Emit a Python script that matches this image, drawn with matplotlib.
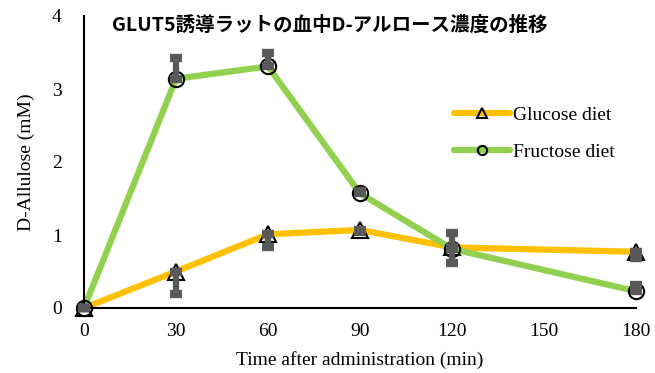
import matplotlib
matplotlib.use("Agg")
import matplotlib.pyplot as plt

time = [0, 30, 60, 90, 120, 180]
glucose = [0.0, 0.50, 1.01, 1.07, 0.83, 0.77]
glucose_err = [0.0, 0.31, 0.17, 0.03, 0.21, 0.09]   # drawn downward
fructose = [0.0, 3.14, 3.31, 1.57, 0.81, 0.23]
fructose_err = [0.0, 0.29, 0.18, 0.03, 0.22, 0.09]  # drawn upward

xticks = [0, 30, 60, 90, 120, 150, 180]
yticks = [0, 1, 2, 3, 4]

title = "GLUT5誘導ラットの血中D-アルロース濃度の推移"

serif = "Liberation Serif"
plt.rcParams["font.family"] = [serif]

fig = plt.figure(figsize=(6.55, 3.73), dpi=100)
ax = fig.add_axes([84 / 655, 1 - 308 / 373, 552 / 655, 292 / 373])

err_color = "#595959"
# error bars (one-sided, Excel style)
ax.errorbar(time, glucose, yerr=[glucose_err, [0] * len(time)], fmt="none",
            ecolor=err_color, elinewidth=4.5, capsize=4, capthick=6, zorder=3)
ax.errorbar(time, fructose, yerr=[[0] * len(time), fructose_err], fmt="none",
            ecolor=err_color, elinewidth=4.5, capsize=4, capthick=6, zorder=3)

ax.plot(time, glucose, color="#FFC000", lw=4.5, marker="^", ms=11,
        mfc="none", mec="black", mew=1.5, label="Glucose diet", zorder=2,
        solid_capstyle="round")
ax.plot(time, fructose, color="#92D050", lw=4.5, marker="o", ms=11,
        mfc="none", mec="black", mew=1.5, label="Fructose diet", zorder=2,
        solid_capstyle="round")

ax.set_xlim(0, 180)
ax.set_ylim(0, 4)
ax.set_xticks(xticks)
ax.set_yticks(yticks)
ax.tick_params(length=0, labelsize=14, pad=11)
ax.tick_params(axis="y", pad=16)
for s in ["top", "right"]:
    ax.spines[s].set_visible(False)
ax.spines["left"].set_linewidth(1.5)
ax.spines["bottom"].set_linewidth(1.5)
ax.spines["left"].set_bounds(0, 4)

ax.set_xlabel("Time after administration (min)", fontsize=14, labelpad=8)
ax.set_ylabel("D-Allulose (mM)", fontsize=14, labelpad=12)

leg = ax.legend(loc="center left", bbox_to_anchor=(0.638, 0.597), frameon=False,
                fontsize=14, markerscale=0.6, handlelength=2.9,
                handletextpad=0.15, labelspacing=1.0)

fig.text(330 / 655, 1 - 25 / 373, title, ha="center", va="center",
         fontsize=14, fontweight="bold",
         family=["Noto Sans CJK JP", "DejaVu Sans"])

for a in ax.get_children():
    a.set_clip_on(False)

fig.savefig("out.png", dpi=100)
